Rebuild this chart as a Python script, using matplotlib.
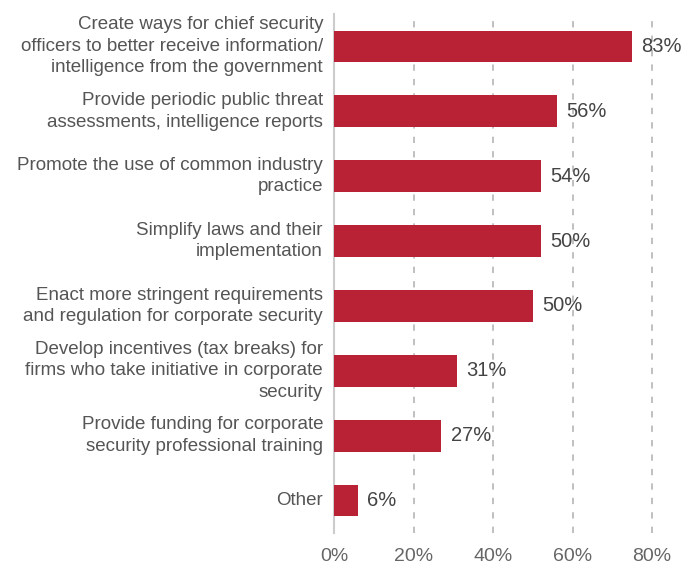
import matplotlib
matplotlib.use("Agg")
import matplotlib.pyplot as plt
from matplotlib.transforms import offset_copy

categories = [
    "Create ways for chief security\nofficers to better receive information/\nintelligence from the government",
    "Provide periodic public threat\nassessments, intelligence reports",
    "Promote the use of common industry\npractice",
    "Simplify laws and their\nimplementation",
    "Enact more stringent requirements\nand regulation for corporate security",
    "Develop incentives (tax breaks) for\nfirms who take initiative in corporate\nsecurity",
    "Provide funding for corporate\nsecurity professional training",
    "Other",
]
bar_values = [75, 56, 52, 52, 50, 31, 27, 6]
value_labels = ["83%", "56%", "54%", "50%", "50%", "31%", "27%", "6%"]
x_ticks = [0, 20, 40, 60, 80]
x_tick_labels = ["0%", "20%", "40%", "60%", "80%"]

plt.rcParams['font.family'] = ['Liberation Sans', 'DejaVu Sans']

fig = plt.figure(figsize=(6.96, 5.69), dpi=100)
ax = fig.add_axes([334/696, 36/569, 350/696, 519/569])

bar_color = "#B82234"
ypos = list(range(len(categories)))
ax.barh(ypos, bar_values, height=0.49, color=bar_color, zorder=3)

for y, v, t in zip(ypos, bar_values, value_labels):
    ax.text(v + 2.3, y, t, va='center', ha='left', fontsize=14.5, color='#444444', zorder=4)

ax.set_ylim(len(categories) - 0.5, -0.5)
ax.set_xlim(0, 88)
ax.set_yticks(ypos)
ax.set_yticklabels([])
# category labels drawn as text to the left of the axis
lab_trans = offset_copy(ax.get_yaxis_transform(), fig=fig, x=-11, y=0, units='dots')
for y, c in zip(ypos, categories):
    ax.text(0, y, c, transform=lab_trans, ha='right', va='center', fontsize=13.5,
            color='#555555', linespacing=1.35, multialignment='right')
ax.set_xticks(x_ticks)
ax.set_xticklabels(x_tick_labels, fontsize=14, color='#666666')
ax.tick_params(axis='both', length=0)
ax.tick_params(axis='x', pad=11)

for s in ['top', 'right', 'bottom']:
    ax.spines[s].set_visible(False)
ax.spines['left'].set_color('#cccccc')
ax.spines['left'].set_linewidth(1.5)

for gx in x_ticks[1:]:
    ax.axvline(gx, color='#bbbbbb', linewidth=1.3, linestyle=(0, (3.5, 4.5)), zorder=1)

fig.savefig("out.png", dpi=100)
